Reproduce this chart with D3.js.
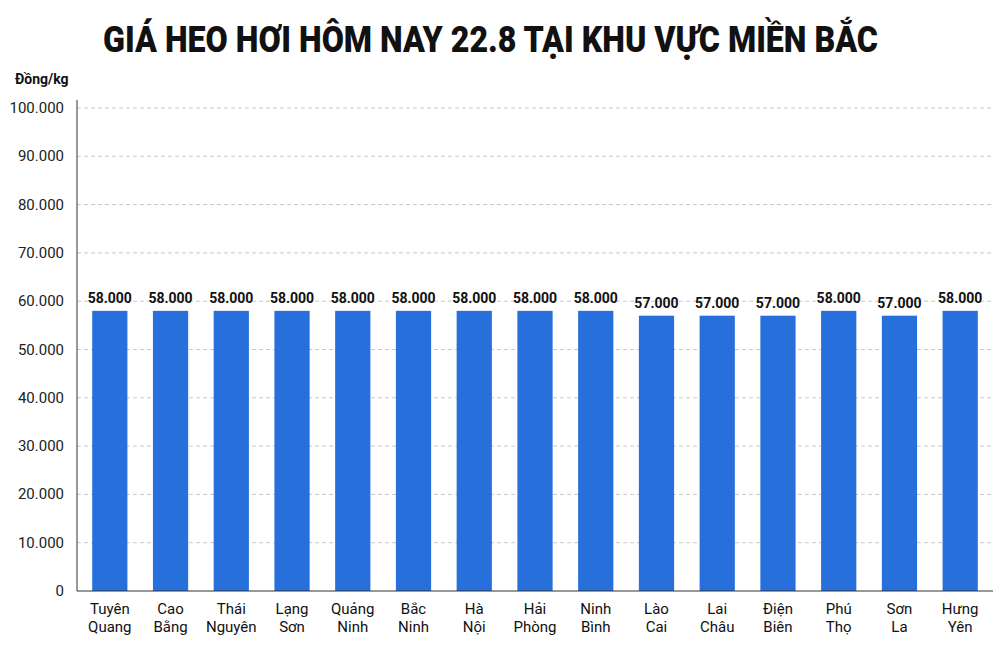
<!DOCTYPE html>
<html><head><meta charset="utf-8">
<script src="https://cdn.jsdelivr.net/npm/d3@7"></script>
<style>body{margin:0;background:#fff}</style>
</head><body>
<svg id="chart" width="998" height="665"></svg>
<script>
var provinces = [["Tuyên","Quang"],["Cao","Bằng"],["Thái","Nguyên"],["Lạng","Sơn"],["Quảng","Ninh"],["Bắc","Ninh"],["Hà","Nội"],["Hải","Phòng"],["Ninh","Bình"],["Lào","Cai"],["Lai","Châu"],["Điện","Biên"],["Phú","Thọ"],["Sơn","La"],["Hưng","Yên"]];
var prices = [58000,58000,58000,58000,58000,58000,58000,58000,58000,57000,57000,57000,58000,57000,58000];
var yTicks = [0,10000,20000,30000,40000,50000,60000,70000,80000,90000,100000];

var svg = d3.select("#chart");
var fmt = d => d3.format(",")(d).replace(/,/g, ".");

var x = d3.scaleBand().domain(d3.range(provinces.length)).range([77, 993]).paddingInner(0.42).paddingOuter(0.25);
var y = d3.scaleLinear().domain([0, 100000]).range([591, 108]);

svg.append("text").attr("x", 103).attr("y", 52)
  .attr("textLength", 775).attr("lengthAdjust", "spacingAndGlyphs")
  .attr("font-family", "Roboto, sans-serif").attr("font-weight", "900")
  .attr("font-size", 36).attr("fill", "#111").text("GIÁ HEO HƠI HÔM NAY 22.8 TẠI KHU VỰC MIỀN BẮC");

svg.append("text").attr("x", 15).attr("y", 84).attr("font-family", "Roboto, sans-serif")
  .attr("font-weight", "bold").attr("font-size", 14).attr("fill", "#111").text("Đồng/kg");

// grid
svg.selectAll(".grid").data(yTicks.slice(1)).join("line")
  .attr("x1", 77).attr("x2", 993).attr("y1", d => y(d)).attr("y2", d => y(d))
  .attr("stroke", "#c8c8c8").attr("stroke-dasharray", "4,3");

svg.selectAll(".yl").data(yTicks).join("text")
  .attr("x", 64).attr("y", d => y(d) + 5).attr("text-anchor", "end")
  .attr("font-family", "Roboto, sans-serif").attr("font-size", 15).attr("fill", "#222")
  .text(fmt);

svg.selectAll(".bar").data(prices).join("rect")
  .attr("x", (d, i) => x(i)).attr("width", x.bandwidth())
  .attr("y", d => y(d)).attr("height", d => y(0) - y(d)).attr("fill", "#2770db");

svg.selectAll(".vl").data(prices).join("text")
  .attr("x", (d, i) => x(i) + x.bandwidth() / 2).attr("y", d => y(d) - 8)
  .attr("text-anchor", "middle").attr("font-family", "Roboto, sans-serif")
  .attr("font-weight", "bold").attr("font-size", 14).attr("fill", "#111").text(fmt);

// axes lines
svg.append("line").attr("x1", 77).attr("x2", 77).attr("y1", 100).attr("y2", 591).attr("stroke", "#333");
svg.append("line").attr("x1", 77).attr("x2", 993).attr("y1", 591).attr("y2", 591).attr("stroke", "#333");

var xl = svg.selectAll(".xl").data(provinces).join("text")
  .attr("text-anchor", "middle").attr("font-family", "Roboto, sans-serif")
  .attr("font-size", 15).attr("fill", "#111");
xl.each(function(d, i) {
  var t = d3.select(this), cx = x(i) + x.bandwidth() / 2;
  d.forEach((w, j) => t.append("tspan").attr("x", cx).attr("y", 614 + j * 18).text(w));
});
</script>
</body></html>
